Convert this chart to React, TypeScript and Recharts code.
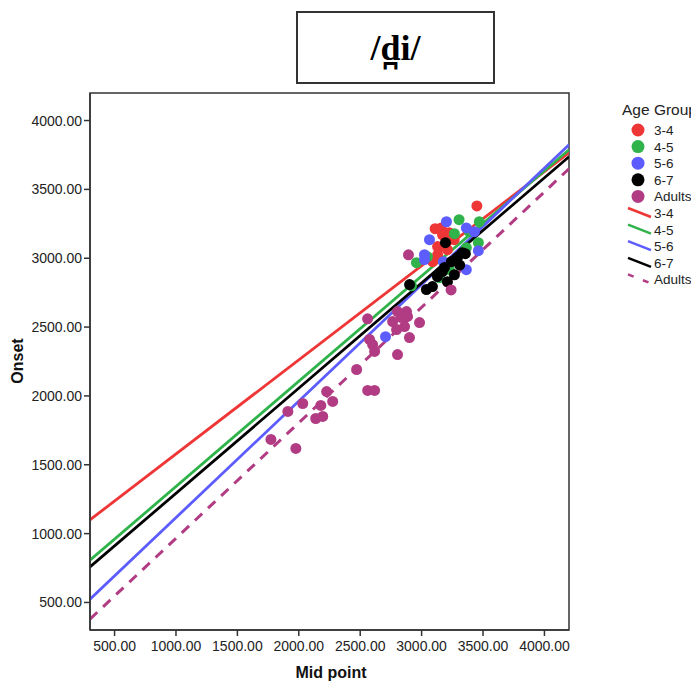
import * as React from 'react';
import {
	ComposedChart,
	Line,
	ReferenceArea,
	Scatter,
	XAxis,
	YAxis,
} from 'recharts';

// scatter points, one pair of arrays per age group
const mid34 = [3450, 3110, 3160, 3170, 3130, 3130, 3225, 3090, 3210, 3265];
const onset34 = [3380, 3215, 3220, 3170, 3085, 3025, 3185, 2975, 3062, 3135];

const mid45 = [3305, 3267, 3364, 2958, 3047, 2918, 3470, 3462, 3145, 3388, 3226];
const onset45 = [3280, 3178, 3077, 2968, 3011, 2800, 3265, 3113, 2859, 3193, 2917];

const mid56 = [3202, 3064, 3364, 3023, 3023, 3364, 3462, 2706, 3430, 3177];
const onset56 = [3265, 3135, 3220, 3026, 2990, 2917, 3055, 2430, 3193, 2975];

const mid67 = [3194, 3291, 3186, 3129, 3039, 3088, 3242, 3332, 3356, 3267, 3210, 3169, 2902, 3310];
const onset67 = [3113, 3004, 2932, 2866, 2772, 2794, 2975, 3040, 3033, 2880, 2830, 2903, 2809, 2950];

const midAdults = [
	2893, 3240, 2560, 2804, 2877, 2885, 2836, 2764, 2796, 2861, 2983, 2576, 2601, 2617,
	2901, 2804, 2471, 2561, 2617, 2227, 2032, 2179, 2276, 1911, 2138, 2195, 1773, 1976,
];
const onsetAdults = [
	3025, 2770, 2560, 2613, 2613, 2577, 2569, 2540, 2482, 2504, 2533, 2410, 2373, 2323,
	2424, 2300, 2192, 2040, 2040, 2032, 1945, 1931, 1960, 1887, 1836, 1851, 1684, 1619,
];

// fit line end points (onset at mid = 300 and at mid = 4200)
const fitX = [300, 4200];
const fit34 = [1100, 3766];
const fit45 = [807, 3788];
const fit56 = [524, 3824];
const fit67 = [758, 3737];
const fitAdults = [379, 3650];

const ticks = [500, 1000, 1500, 2000, 2500, 3000, 3500, 4000];

const groups = ['3-4', '4-5', '5-6', '6-7', 'Adults'];
const colors = ['#ef3636', '#2fb34a', '#5c5cff', '#000000', '#b23c84'];

function zip(xs: number[], ys: number[]) {
	return xs.map((x, i) => ({x, y: ys[i]}));
}

const points = [
	zip(mid34, onset34),
	zip(mid45, onset45),
	zip(mid56, onset56),
	zip(mid67, onset67),
	zip(midAdults, onsetAdults),
];
const fits = [fit34, fit45, fit56, fit67, fitAdults].map(f => zip(fitX, f));

const font = '"Liberation Sans", Arial, sans-serif';

const Dot = (props: any) => (
	<circle cx={props.cx} cy={props.cy} r={5.5} fill={props.fill} />
);

const axisTitle: React.CSSProperties = {
	position: 'absolute',
	fontFamily: font,
	fontWeight: 'bold',
	fontSize: 16,
	lineHeight: '18px',
	color: '#111',
	whiteSpace: 'nowrap',
};

function LegendBox() {
	return (
		<div style={{position: 'absolute', left: 622, top: 101, fontFamily: font, color: '#222', whiteSpace: 'nowrap'}}>
			<div style={{fontSize: 15.5, height: 22}}>Age Group</div>
			<svg width={77} height={170} style={{display: 'block'}}>
				{groups.map((g, i) => (
					<g key={'p' + g}>
						<circle cx={16} cy={7 + i * 16.6} r={6.5} fill={colors[i]} />
						<text x={32} y={12 + i * 16.6} fontSize={13.5} fill="#222">{g}</text>
					</g>
				))}
				{groups.map((g, i) => {
					const y = 7 + (i + 5) * 16.6;
					return (
						<g key={'l' + g}>
							<line
								x1={6} y1={y - 5} x2={29} y2={y + 4}
								stroke={colors[i]}
								strokeWidth={2.5}
								strokeDasharray={g === 'Adults' ? '6 10' : undefined}
							/>
							<text x={32} y={y + 5} fontSize={13.5} fill="#222">{g}</text>
						</g>
					);
				})}
			</svg>
		</div>
	);
}

export default function App() {
	return (
		<div style={{position: 'relative', width: 699, height: 690, margin: -8, background: '#fff', overflow: 'hidden'}}>
			<div
				style={{
					position: 'absolute',
					left: 296,
					top: 11,
					width: 195,
					height: 69,
					border: '2px solid #333',
					display: 'flex',
					alignItems: 'center',
					justifyContent: 'center',
					fontFamily: '"Liberation Serif", "Times New Roman", serif',
					fontWeight: 'bold',
					fontSize: 36,
				}}
			>
				/d̪i/
			</div>
			<ComposedChart
				width={699}
				height={690}
				margin={{top: 93, right: 130, bottom: 0, left: 0}}
			>
				<XAxis
					dataKey="x"
					type="number"
					domain={[300, 4200]}
					ticks={ticks}
					tickFormatter={(v: number) => v.toFixed(2)}
					allowDataOverflow
					height={60}
					tickSize={6}
					stroke="#333"
					strokeWidth={1.5}
					tick={{fill: '#222', fontSize: 14, fontFamily: font, dy: 3}}
				/>
				<YAxis
					dataKey="y"
					type="number"
					domain={[300, 4200]}
					ticks={ticks}
					tickFormatter={(v: number) => v.toFixed(2)}
					allowDataOverflow
					width={90}
					tickSize={6}
					stroke="#333"
					strokeWidth={1.5}
					tick={{fill: '#222', fontSize: 14, fontFamily: font}}
				/>
				<ReferenceArea x1={300} x2={4200} y1={300} y2={4200} fill="none" stroke="#333" strokeWidth={1.5} />
				{points.map((d, i) => (
					<Scatter
						key={'s' + groups[i]}
						data={d}
						fill={colors[i]}
						shape={Dot}
						isAnimationActive={false}
					/>
				))}
				{fits.map((d, i) => (
					<Line
						key={'f' + groups[i]}
						data={d}
						dataKey="y"
						stroke={colors[i]}
						strokeWidth={groups[i] === 'Adults' ? 3 : 2.8}
						strokeDasharray={groups[i] === 'Adults' ? '10 8' : undefined}
						dot={false}
						activeDot={false}
						type="linear"
						isAnimationActive={false}
					/>
				))}
			</ComposedChart>
			<div style={{...axisTitle, left: 331, top: 664, transform: 'translateX(-50%)'}}>
				Mid point
			</div>
			<div style={{...axisTitle, left: 18, top: 361, transform: 'translate(-50%, -50%) rotate(-90deg)'}}>
				Onset
			</div>
			<LegendBox />
		</div>
	);
}
